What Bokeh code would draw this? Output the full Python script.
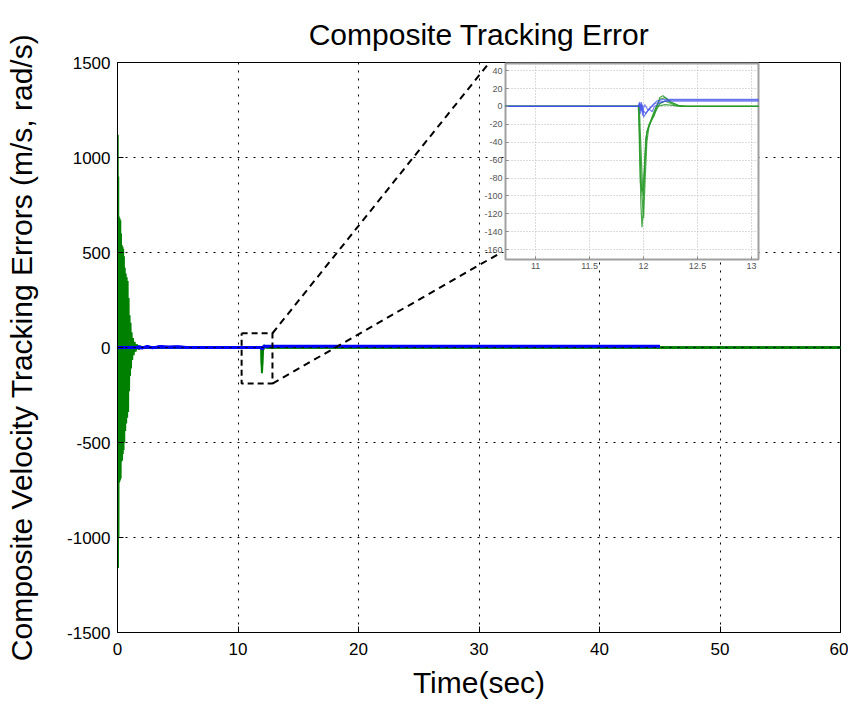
from bokeh.plotting import figure
from bokeh.models import Range1d, FixedTicker
from bokeh.embed import file_html
from bokeh.resources import INLINE

TITLE = "Composite Tracking Error"
X_LABEL = "Time(sec)"
Y_LABEL = "Composite Velocity Tracking Errors (m/s, rad/s)"
x_ticks = [0, 10, 20, 30, 40, 50, 60]
y_ticks = [-1500, -1000, -500, 0, 500, 1000, 1500]
inset_x_ticks = [11, 11.5, 12, 12.5, 13]
inset_y_ticks = [-160, -140, -120, -100, -80, -60, -40, -20, 0, 20, 40]

# ---- green series (time, value) ----
g1_t = [0.00, 0.02, 0.04, 0.06, 0.08, 0.11, 0.14, 0.17, 0.20, 0.23, 0.26, 0.29, 0.32, 0.35,
        0.38, 0.41, 0.44, 0.47, 0.50, 0.53, 0.56, 0.60, 0.64, 0.68, 0.72, 0.76, 0.80, 0.84,
        0.88, 0.92, 0.96, 1.00, 1.04, 1.08, 1.12, 1.17, 1.22, 1.28, 1.34, 1.42, 1.50, 1.60,
        1.75, 1.90, 2.10, 11.95, 11.96, 11.975, 11.985, 11.995, 12.01, 12.03, 12.06, 12.10,
        12.15, 12.20, 12.25, 12.32, 12.40, 60.0]
g1_v = [0, 1120, -1160, 900, -1000, 690, -710, 680, -700, 670, -690, 600, -600, 540,
        -595, 530, -560, 520, -540, 480, -500, 420, -440, 390, -400, 370, -370, 350,
        -340, 260, -230, 170, -150, 130, -110, 80, -65, 50, -40, 30, -22, 16,
        -10, 5, 0, 0, -20, -110, -135, -120, -60, -28, -18, -5,
        8, 10, 5, 1, 0, 0]

g2_t = [0.00, 0.03, 0.07, 0.12, 0.18, 0.24, 0.30, 0.36, 0.42, 0.50, 0.58, 0.66, 0.74, 0.82,
        0.90, 1.00, 1.10, 1.25, 1.40, 1.60, 1.80, 2.00, 11.955, 11.97, 11.985, 12.00, 12.015,
        12.03, 12.05, 12.10, 12.15, 12.20, 12.30, 12.40, 60.0]
g2_v = [0, 650, -520, 480, -450, 400, -380, 330, -300, 260, -220, 190, -160, 120,
        -90, 60, -40, 25, -15, 8, -4, 0, 0, -60, -100, -125, -80,
        -40, -22, -8, 3, 6, 1, 0, 0]

g3_t = [0.00, 0.05, 0.10, 0.16, 0.22, 0.28, 0.34, 0.40, 0.48, 0.56, 0.64, 0.72, 0.80, 0.90,
        1.00, 1.15, 1.30, 1.50, 1.70, 2.00, 11.955, 11.962, 11.97, 11.985, 12.00, 12.02,
        12.05, 12.10, 12.15, 12.18, 12.25, 12.35, 60.0]
g3_v = [0, -300, 280, -250, 220, -200, 180, -150, 130, -110, 90, -70, 55, -40,
        30, -20, 12, -8, 5, 0, 0, -50, -85, -95, -90, -35,
        -20, -10, 10, 12, 5, 0, 0]

g4_t = [0.00, 0.04, 0.09, 0.15, 0.21, 0.27, 0.33, 0.40, 0.50, 0.60, 0.70, 0.85, 1.00, 1.20,
        1.40, 1.70, 2.00, 11.96, 11.98, 11.995, 12.01, 12.03, 12.08, 12.12, 12.20, 12.35, 60.0]
g4_v = [0, 200, -180, 160, -150, 130, -120, 100, -90, 70, -55, 40, -30, 18,
        -10, 4, 0, 0, -60, -100, -70, -30, -12, 0, 2, 0, 0]

# ---- blue series (time, value), recorded until 45 s ----
b1_t = [0.0, 1.5, 1.8, 2.1, 2.5, 3.0, 3.6, 4.3, 5.0, 6.0, 11.95, 11.96, 11.97, 11.98,
        11.99, 12.00, 12.02, 12.05, 12.08, 12.10, 12.15, 12.20, 12.25, 12.30, 45.0]
b1_v = [0, 0, 6, -3, 7, -2, 6, 3, 5, 0, 0, 4, -8, 5,
        -10, -5, -8, -3, -6, 0, 4, 6, 7, 7, 7]

b2_t = [0.0, 1.6, 2.0, 2.4, 2.9, 3.4, 4.0, 4.8, 6.0, 11.955, 11.965, 11.975, 11.99, 12.00,
        12.03, 12.06, 12.10, 12.15, 12.20, 45.0]
b2_v = [0, 0, -4, 5, -3, 6, 2, 4, 0, 0, 5, -5, 2, -12,
        -6, -2, 3, 5, 6, 6]

b3_t = [0.0, 11.96, 11.975, 11.99, 12.01, 12.04, 12.08, 12.12, 12.18, 12.24, 45.0]
b3_v = [0, 0, 3, -6, 2, -4, 1, 6, 8, 8, 8]

greens = [(g1_t, g1_v), (g2_t, g2_v), (g3_t, g3_v), (g4_t, g4_v)]
blues = [(b1_t, b1_v), (b2_t, b2_v), (b3_t, b3_v)]

FONT = "Liberation Sans"

# ---------------- main figure ----------------
BL, BR, BT, BB = 117, 8, 62, 72
FW, FH = 723, 570
p = figure(frame_width=FW, frame_height=FH,
           min_border_left=BL, min_border_right=BR, min_border_top=BT, min_border_bottom=BB,
           x_range=Range1d(0, 60), y_range=Range1d(-1500, 1500),
           output_backend="svg", toolbar_location=None, title=TITLE)
p.title.align = "center"
p.title.text_font = FONT
p.title.text_font_size = "30px"
p.title.text_font_style = "normal"
p.title.text_color = "black"
p.title.standoff = 24

for gt, gv in greens:
    p.line(gt, gv, color="#008000", line_width=2)
for bt, bv in blues:
    p.line(bt, bv, color="#0000ff", line_width=2.5)

# zoom box and connector lines
p.line([10.3, 12.86, 12.86, 10.3, 10.3], [75, 75, -190, -190, 75],
       color="black", line_width=2, line_dash="6 4")
p.line([12.86, 30.8], [75, 1495], color="black", line_width=2, line_dash="7 5")
p.line([12.86, 31.7], [-190, 495], color="black", line_width=2, line_dash="7 5")

p.xaxis.ticker = FixedTicker(ticks=x_ticks)
p.yaxis.ticker = FixedTicker(ticks=y_ticks)
p.xaxis.major_label_overrides = {v: str(v) for v in x_ticks}
p.yaxis.major_label_overrides = {v: str(v) for v in y_ticks}
p.xaxis.axis_label = X_LABEL
p.yaxis.axis_label = Y_LABEL
for ax in (p.xaxis, p.yaxis):
    ax.axis_label_text_font = FONT
    ax.axis_label_text_font_size = "30px"
    ax.axis_label_text_font_style = "normal"
    ax.axis_label_text_color = "black"
    ax.major_label_text_font = FONT
    ax.major_label_text_font_size = "17px"
    ax.major_label_text_color = "black"
    ax.major_tick_in = 6
    ax.major_tick_out = 0
    ax.minor_tick_in = 0
    ax.minor_tick_out = 0
    ax.axis_line_color = "black"
    ax.major_tick_line_color = "black"
p.xaxis.major_label_standoff = 10
p.xaxis.axis_label_standoff = 8
p.yaxis.major_label_standoff = 7
p.yaxis.axis_label_standoff = 26
p.outline_line_color = "black"
p.outline_line_width = 1
p.grid.grid_line_color = "black"
p.grid.grid_line_dash = "2 6"
p.grid.grid_line_width = 1
p.grid.level = "overlay"
p.background_fill_color = "white"
p.border_fill_color = "white"

# ---------------- inset figure ----------------
IL, IR, IT, IB = 25, 4, 2, 14
IW, IH = 253, 196
inset = figure(frame_width=IW, frame_height=IH,
               min_border_left=IL, min_border_right=IR, min_border_top=IT, min_border_bottom=IB,
               x_range=Range1d(10.72, 13.065), y_range=Range1d(-171, 48),
               output_backend="svg", toolbar_location=None)
for gt, gv in greens:
    inset.line(gt, gv, color="#2a9a2a", line_width=1.2, alpha=0.85)
for bt, bv in blues:
    inset.line(bt, bv, color="#3f4fe8", line_width=1.2, alpha=0.7)
inset.xaxis.ticker = FixedTicker(ticks=inset_x_ticks)
inset.yaxis.ticker = FixedTicker(ticks=inset_y_ticks)
inset.xaxis.major_label_overrides = {v: str(v) for v in inset_x_ticks}
inset.yaxis.major_label_overrides = {v: str(v) for v in inset_y_ticks}
for ax in (inset.xaxis, inset.yaxis):
    ax.major_label_text_font = FONT
    ax.major_label_text_font_size = "9px"
    ax.major_label_text_color = "#555555"
    ax.major_label_standoff = 3
    ax.major_tick_in = 3
    ax.major_tick_out = 0
    ax.minor_tick_in = 0
    ax.minor_tick_out = 0
    ax.axis_line_color = None
    ax.major_tick_line_color = "#888888"
inset.outline_line_color = "#a0a0a0"
inset.outline_line_width = 2
inset.grid.grid_line_color = "#b8b8b8"
inset.grid.grid_line_dash = "1 2"
inset.background_fill_color = "white"
inset.border_fill_alpha = 0

OFF_X = 505 - IL
OFF_Y = 63 - IT
inset.styles = {"position": "absolute", "left": f"{OFF_X}px", "top": f"{OFF_Y}px"}

open("out.html", "w").write(file_html([p, inset], INLINE))
